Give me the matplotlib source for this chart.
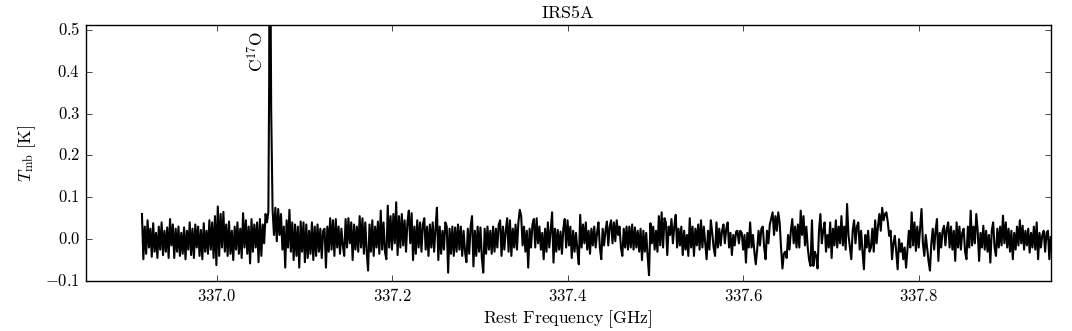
import numpy as np
import matplotlib
matplotlib.use('Agg')
import matplotlib.pyplot as plt
from matplotlib.ticker import FuncFormatter

plt.style.use('classic')
plt.rcParams['mathtext.fontset'] = 'cm'

# spectrum: channel grid (GHz) and main-beam temperature (mK)
f_start = 336.915
f_step = 0.0016
tmb_mk = [
    # 336.915 - 337.121  (C17O peak at 337.061)
    60, -48, 30, -35, 45, -20, 25, -42, 38, -30, 15, -45, 30, -25, 40, -38, 20, -30, 28, -45,
    48, -15, 35, -45, 25, -30, 30, -40, 15, -35, 28, -48, 20, -25, 40, -38, 25, -45, 35, -20,
    30, -40, 22, -48, 38, -30, 20, -35, 45, -25, 40, -45, 55, -62, 78, -40, 60, -20, 65, -30,
    35, -40, 42, -35, 20, -50, 30, -25, 40, -35, 25, -45, 62, -20, 45, -35, 30, -58, 48, -30,
    35, -20, 40, -55, 48, -40, 35, -10, 60, 40, 65, 950, 310, 70, 10, 75, -5, 72, 10, 60,
    -25, 30, -68, 45, -20, 70, -30, 40, -50, 35, -40, 30, -68, 42, -30, 40, -55, 35, -45, 20,
    -35, 40, -50, 30, -40, 35, -30, 25, -45, 20,
    # 337.123 - 337.329
    25, -68, 30, -30, 50, -25, 45, -40, 48, -20, 30, -35, 25, -15, -40, 48, -20, 50, -10, 40,
    -50, 35, -25, 30, -30, 55, -20, 50, -35, 40, -30, -75, 35, -30, 45, -40, 30, -20, 42, -35,
    68, -25, 40, -30, -48, 80, -20, 55, -25, 60, -10, 88, -38, 55, -20, 60, -15, 45, -30, 40,
    68, -10, 62, -50, 30, -35, 45, -20, 40, -30, 35, 50, -25, 30, -40, 35, -20, 40, -30, 25,
    75, -50, 30, -35, 20, -25, 40, 30, -80, 25, -35, 30, -40, 28, -30, 35, -25, 30, -40, 20,
    -30, -55, 25, -35, 30, 55, -65, 20, -40, 30, -30, 28, -45, -80, 25, -35, 30, -25, 20, -35,
    30, -30, 25, -20, 35, 45, -40, 30, -25, 20,
    # 337.331 - 337.536
    50, -30, 45, -40, 25, -20, 35, -25, 40, 70, 55, -15, 30, -30, 20, -68, 25, -20, 35, 48,
    -20, 50, -10, 30, -25, 15, -48, 25, -30, 40, -20, 20, 64, -56, 25, -30, 22, -25, 18, -35,
    25, 48, -20, 45, -15, 30, -45, 20, -30, 15, -25, -60, 58, -20, 35, -10, 40, -25, 20, -35,
    25, -15, 30, -20, 15, 40, -20, -48, 25, -15, 20, 42, -15, 30, 45, -10, 40, -5, 45, 10,
    30, -20, -40, 25, -20, 30, -25, 30, -20, 35, -25, 28, -20, 20, -30, 25, -50, 20, -30, 15,
    -40, -86, 38, -10, 30, -25, 20, -30, 55, -15, 64, -20, 50, 40, -38, 30, 10, 48, -10, 30,
    58, -20, 25, -15, 30, -38, 20, -25, 10,
    # 337.538 - 337.744
    -40, 50, -20, 30, -40, 25, -15, 35, -25, 45, -20, 30, -10, -48, 20, -25, 45, 15, -20, -40,
    40, -20, 25, -15, 20, 35, -10, 25, 40, -20, 15, -38, 10, -15, 18, 20, -10, 20, 15, -25,
    10, -56, 15, -20, 40, -20, 10, -30, -60, -25, 20, -15, 25, 30, -20, -48, 20, -10, 35, 50,
    64, 10, 55, 20, 64, 40, -20, -70, -35, -30, -45, 10, -25, 20, 48, -10, 30, -20, 35, -20,
    68, 10, 55, -15, 30, -20, -50, -64, 45, -64, -30, -40, -70, 20, 60, -10, 20, 40, -30, 10,
    -20, 40, -45, 25, -15, 45, -20, 30, -10, 55, -15, 30, -25, 84, 10, -20, -48, 20, 45, -10,
    30, 40, -25, 20, -30, -72, 10, -20, 20, -30,
    # 337.746 - 337.950
    -20, 25, -30, 45, -10, 30, 60, 20, 75, 45, 60, 64, 40, 8, 20, -48, -10, 8, -30, -72,
    0, -30, -10, -48, -20, -68, -25, 20, -20, 64, -15, 40, -28, 30, -20, 25, 72, -10, -40, 10,
    -20, -52, -75, -10, 25, -25, 20, 48, -52, 15, -20, 20, 32, -15, 25, 40, -20, 30, -25, 20,
    -52, 40, -20, 30, -25, 15, 25, -30, -48, 30, -20, 68, -15, 30, -10, 60, 20, -52, 15, -20,
    32, -25, 20, -30, 10, -56, 20, 40, -20, -40, 25, -20, 30, -15, 56, -10, 40, -20, 25, -30,
    20, -48, 15, -25, 30, -15, 45, -10, 32, -25, 20, -15, 25, -32, 15, -20, 30, -25, 40, -48,
    15, -20, 10, 20, -30, 15, 20, -48, 5,
]

# extra C17O line channel just left of the peak
wing_freq = [337.0599]
wing_tmb = [0.37]

freq = f_start + f_step * np.arange(len(tmb_mk))
tmb = np.array(tmb_mk) / 1000.0

freq = np.concatenate([freq, wing_freq])
tmb = np.concatenate([tmb, wing_tmb])
order = np.argsort(freq)
freq = freq[order]
tmb = tmb[order]

fig = plt.figure(figsize=(10.72, 3.31), dpi=100, facecolor='white')
ax = fig.add_axes([0.080, 0.151, 0.900, 0.773])
ax.plot(freq, tmb, color='black', lw=1.5)

ax.set_xlim(336.851, 337.950)
ax.set_ylim(-0.1, 0.511)
ax.set_xticks([337.0, 337.2, 337.4, 337.6, 337.8])
ax.set_yticks([-0.1, 0.0, 0.1, 0.2, 0.3, 0.4, 0.5])
fmt = FuncFormatter(lambda v, p: '$%.1f$' % v)
ax.xaxis.set_major_formatter(fmt)
ax.yaxis.set_major_formatter(fmt)
ax.tick_params(labelsize=12)

ax.set_xlabel(r'$\mathrm{Rest\ Frequency\ [GHz]}$', fontsize=12.7, labelpad=3)
ax.set_ylabel(r'$T_\mathrm{mb}\ \mathrm{[K]}$', fontsize=12.7)
ax.set_title(r'$\mathrm{IRS5A}$', fontsize=13)

ax.text(337.0575, 0.497, r'$\mathrm{C^{17}O}$', rotation=90, ha='right', va='top', fontsize=12.5)

fig.savefig('out.png', dpi=100, facecolor='white')
